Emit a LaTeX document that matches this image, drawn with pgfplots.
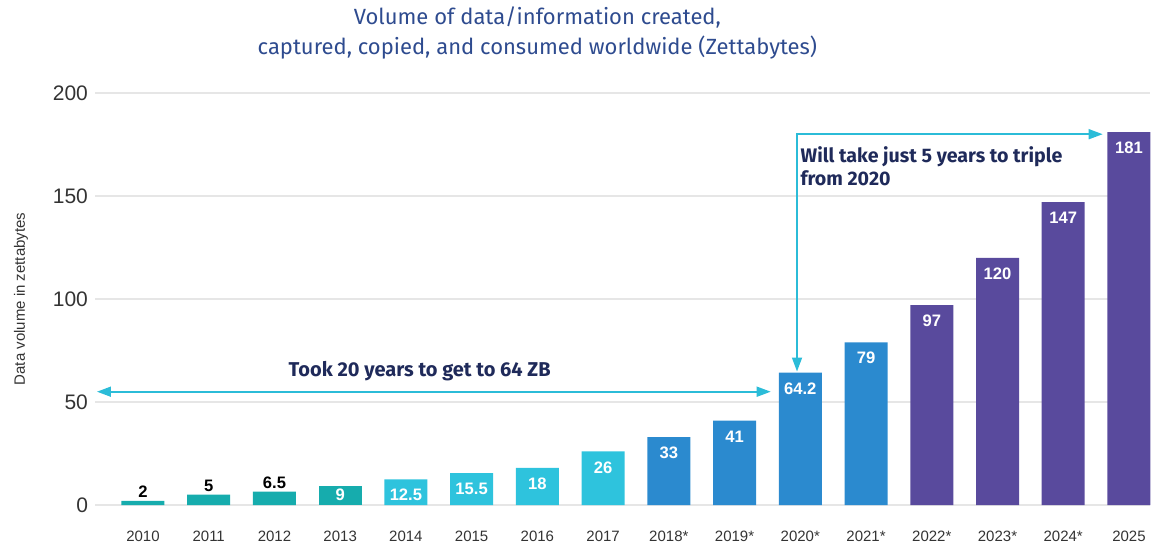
\documentclass[border=0pt]{standalone}
\usepackage{pgfplots}
\pgfplotsset{compat=1.18}
\usepackage{pgfplotstable}
\usepackage{fontspec}
\setmainfont{Liberation Sans}
\newfontfamily\titlefont{Fira Sans}
\usetikzlibrary{arrows.meta}
\definecolor{cteal}{HTML}{16ACAD}
\definecolor{ccyan}{HTML}{2EC3DD}
\definecolor{cblue}{HTML}{2B8ACF}
\definecolor{cpurple}{HTML}{594A9D}
\definecolor{titleblue}{HTML}{2E4B8F}
\definecolor{navy}{HTML}{1F2A5A}
\definecolor{arrowcyan}{HTML}{2BBCD8}
\definecolor{tickgray}{HTML}{333333}
\definecolor{gridgray}{HTML}{E6E6E6}

\pgfplotstableread{
x y lab
0 2 2
1 5 5
2 6.5 6.5
}\tealabove
\pgfplotstableread{
x y lab
3 9 9
}\tealin
\pgfplotstableread{
x y lab
4 12.5 12.5
5 15.5 15.5
6 18 18
7 26 26
}\cyanin
\pgfplotstableread{
x y lab
8 33 33
9 41 41
10 64.2 64.2
11 79 79
}\bluein
\pgfplotstableread{
x y lab
12 97 97
13 120 120
14 147 147
15 181 181
}\purplein

\begin{document}
\begin{tikzpicture}
\useasboundingbox (-47.5pt,-21pt) rectangle (528.5pt,252.5pt);
\begin{axis}[
  at={(0,0)}, anchor=south west,
  scale only axis, width=527.5pt, height=206pt,
  xmin=-0.73, xmax=15.32, ymin=0, ymax=200,
  clip=false,
  axis line style={draw=none},
  tick style={draw=none},
  ymajorgrids, major grid style={gridgray, line width=0.6pt},
  ytick={0,50,100,150,200},
  xtick={0,...,15},
  xticklabels={2010,2011,2012,2013,2014,2015,2016,2017,2018*,2019*,2020*,2021*,2022*,2023*,2024*,2025},
  /pgf/number format/assume math mode=true,
  yticklabel style={font=\fontsize{10.5}{12}\selectfont, text=tickgray},
  xticklabel style={font=\fontsize{7.5}{9}\selectfont, text=tickgray, yshift=-5pt},
  ybar, bar width=21.5pt, bar shift=0pt,
  point meta=explicit symbolic,
  nodes near coords,
]
\addplot[fill=cteal, draw=none, nodes near coords style={anchor=south, font=\bfseries\fontsize{8.3}{9}\selectfont, text=black, inner sep=1.5pt}] table[x=x,y=y,meta=lab] {\tealabove};
\addplot[fill=cteal, draw=none, nodes near coords style={anchor=north, font=\bfseries\fontsize{8.3}{9}\selectfont, text=white, inner sep=1pt}] table[x=x,y=y,meta=lab] {\tealin};
\addplot[fill=ccyan, draw=none, nodes near coords style={anchor=north, font=\bfseries\fontsize{8.3}{9}\selectfont, text=white, yshift=-1.5pt}] table[x=x,y=y,meta=lab] {\cyanin};
\addplot[fill=cblue, draw=none, nodes near coords style={anchor=north, font=\bfseries\fontsize{8.3}{9}\selectfont, text=white, yshift=-1.5pt}] table[x=x,y=y,meta=lab] {\bluein};
\addplot[fill=cpurple, draw=none, nodes near coords style={anchor=north, font=\bfseries\fontsize{8.3}{9}\selectfont, text=white, yshift=-1.5pt}] table[x=x,y=y,meta=lab] {\purplein};

% arrows
\draw[arrowcyan, line width=0.8pt, {Triangle[length=7pt,width=5pt]}-{Triangle[length=7pt,width=5pt]}]
  (axis cs:-0.70,55) -- (axis cs:9.55,55);
\draw[arrowcyan, line width=0.8pt, {Triangle[length=7pt,width=5pt]}-{Triangle[length=7pt,width=5pt]}]
  (axis cs:14.6,180) -- (axis cs:9.95,180) -- (axis cs:9.95,64.8);

\node[font=\titlefont\bfseries\fontsize{10}{11}\selectfont, text=navy] at (axis cs:4.21,65) {Took 20 years to get to 64 ZB};
\node[font=\titlefont\bfseries\fontsize{9.8}{11.5}\selectfont, text=navy, align=left, anchor=north west, inner sep=0pt] at (axis cs:10.0,174) {Will take just 5 years to triple\\from 2020};

\node[font=\titlefont\fontsize{11}{15}\selectfont, text=titleblue, align=center] at (axis cs:6.0,229) {Volume of data/information created,\\captured, copied, and consumed worldwide (Zettabytes)};

\node[rotate=90, font=\fontsize{7.5}{9}\selectfont, text=tickgray, yshift=37pt] at (rel axis cs:0,0.5) {Data volume in zettabytes};
\end{axis}
\end{tikzpicture}
\end{document}
